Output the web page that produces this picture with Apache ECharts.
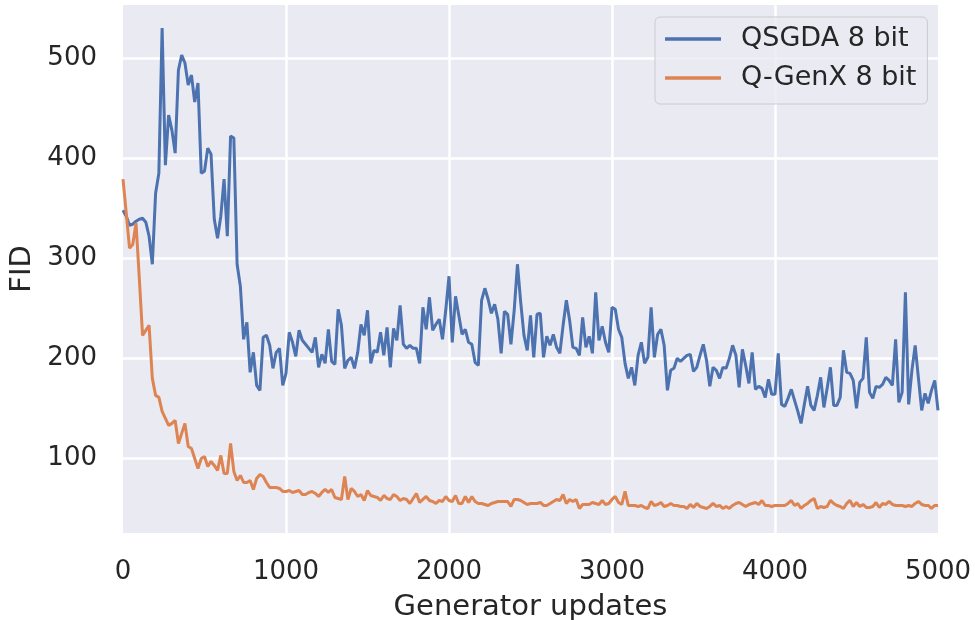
<!DOCTYPE html>
<html>
<head>
<meta charset="utf-8">
<script src="https://cdn.jsdelivr.net/npm/echarts@6/dist/echarts.min.js"></script>
<style>
  html, body { margin: 0; padding: 0; background: #fff; }
  #main { width: 975px; height: 620px; }
</style>
</head>
<body>
<div id="main"></div>
<script>
// FID measured every 20 generator updates (0 .. 5000)
const STEP = 20;
const qsgda = [
  348, 342, 333, 334, 337, 339, 340, 336, 322, 294,
  365, 385, 530, 393, 443, 428, 405, 488, 503, 495,
  473, 483, 456, 475, 385, 387, 410, 404, 339, 320,
  342, 379, 322, 422, 420, 294, 272, 219, 236, 186,
  206, 173, 168, 221, 223, 213, 190, 206, 210, 173,
  185, 226, 216, 202, 228, 218, 214, 210, 206, 221,
  191, 204, 195, 229, 197, 194, 249, 233, 190, 198,
  201, 190, 206, 234, 223, 248, 195, 208, 206, 226,
  203, 231, 191, 230, 218, 253, 214, 210, 213, 210,
  210, 195, 251, 229, 261, 228, 234, 239, 219, 248,
  282, 216, 262, 243, 224, 229, 216, 214, 196, 193,
  258, 270, 259, 245, 254, 239, 205, 247, 244, 214,
  248, 294, 256, 223, 208, 243, 201, 244, 245, 201,
  222, 213, 224, 211, 205, 233, 258, 238, 211, 210,
  203, 241, 211, 222, 205, 266, 218, 232, 216, 206,
  251, 249, 229, 221, 195, 180, 191, 173, 203, 216,
  195, 201, 251, 201, 224, 229, 213, 168, 188, 190,
  200, 197, 200, 203, 204, 187, 191, 203, 214, 198,
  172, 191, 188, 180, 191, 190, 200, 213, 203, 171,
  209, 193, 175, 206, 169, 172, 170, 161, 179, 164,
  164, 205, 154, 152, 160, 169, 158, 147, 135, 154,
  172, 153, 148, 163, 181, 151, 170, 191, 153, 153,
  161, 208, 186, 185, 178, 150, 176, 180, 221, 166,
  160, 172, 171, 174, 181, 178, 173, 219, 156, 166,
  266, 154, 188, 213, 180, 148, 165, 155, 168, 178,
  148
];
const qgenx = [
  379, 345, 310, 314, 335, 280, 223, 228, 233, 180,
  163, 161, 147, 140, 133, 135, 138, 115, 125, 135,
  112, 110, 100, 90, 100, 102, 92, 97, 93, 88,
  103, 85, 85, 115, 87, 78, 83, 76, 76, 78,
  69, 80, 84, 82, 76, 71, 71, 71, 70, 67,
  67, 68, 66, 67, 68, 64, 64, 66, 67, 65,
  62, 66, 69, 66, 69, 61, 60, 59, 82, 59,
  70, 67, 62, 64, 58, 68, 63, 62, 61, 58,
  63, 60, 59, 64, 62, 58, 60, 59, 55, 60,
  65, 56, 59, 62, 58, 57, 55, 58, 57, 62,
  58, 57, 63, 55, 55, 62, 56, 62, 57, 55,
  55, 54, 53, 55, 56, 57, 57, 57, 57, 52,
  59, 59, 58, 56, 54, 55, 55, 55, 56, 53,
  53, 55, 57, 59, 58, 64, 55, 59, 57, 59,
  50, 54, 54, 54, 56, 55, 54, 58, 54, 55,
  59, 62, 56, 54, 67, 53, 53, 53, 52, 53,
  51, 50, 57, 53, 54, 56, 52, 53, 55, 53,
  53, 52, 52, 50, 54, 51, 55, 52, 51, 50,
  52, 55, 52, 53, 50, 52, 50, 53, 55, 56,
  54, 52, 54, 55, 56, 54, 58, 53, 53, 52,
  53, 53, 53, 53, 55, 58, 53, 55, 50, 53,
  55, 58, 60, 50, 52, 51, 52, 58, 55, 53,
  52, 50, 55, 58, 52, 56, 52, 54, 51, 51,
  52, 56, 51, 55, 54, 57, 54, 53, 53, 53,
  52, 53, 52, 55, 57, 54, 53, 53, 50, 53,
  53
];
const seriesNames = ['QSGDA 8 bit', 'Q-GenX 8 bit'];
const xTicks = [0, 1000, 2000, 3000, 4000, 5000];

const FONT = 'DejaVu Sans';
const TEXT = '#262626';

function pairs(arr) {
  return arr.map((v, i) => [i * STEP, v]);
}

var myChart = echarts.init(document.getElementById('main'), null, { renderer: 'canvas' });

let option = {
  animation: false,
  backgroundColor: '#ffffff',
  color: ['#4c72b0', '#dd8452'],
  grid: {
    left: 123,
    right: 37,
    top: 5,
    bottom: 87,
    outerBoundsMode: 'none',
    containLabel: false,
    show: true,
    backgroundColor: '#eaeaf2',
    borderWidth: 0
  },
  legend: {
    orient: 'vertical',
    left: 655,
    top: 17,
    padding: [7, 11, 11, 10],
    itemWidth: 56,
    itemHeight: 3.5,
    itemGap: 9,
    icon: 'rect',
    backgroundColor: 'rgba(234,234,242,0.8)',
    borderColor: '#cccccc',
    borderWidth: 1,
    borderRadius: 5,
    textStyle: {
      fontFamily: FONT,
      fontSize: 27,
      color: TEXT,
      lineHeight: 30,
      padding: [0, 0, 0, 15]
    },
    data: seriesNames
  },
  xAxis: {
    type: 'value',
    min: xTicks[0],
    max: xTicks[xTicks.length - 1],
    interval: 1000,
    name: 'Generator updates',
    nameLocation: 'middle',
    nameGap: 60,
    nameTextStyle: { fontFamily: FONT, fontSize: 29, color: TEXT },
    axisLine: { show: false },
    axisTick: { show: false },
    axisLabel: {
      fontFamily: FONT, fontSize: 26, color: TEXT, margin: 26,
      formatter: (v) => String(v)
    },
    splitLine: {
      show: true,
      showMinLine: false,
      showMaxLine: false,
      lineStyle: { color: '#ffffff', width: 2.5 }
    }
  },
  yAxis: {
    type: 'value',
    min: 25.5,
    max: 553,
    splitNumber: 5,
    name: 'FID',
    nameLocation: 'middle',
    nameGap: 86,
    nameTextStyle: { fontFamily: FONT, fontSize: 29, color: TEXT },
    axisLine: { show: false },
    axisTick: { show: false },
    axisLabel: {
      fontFamily: FONT, fontSize: 26, color: TEXT, margin: 26,
      showMinLabel: false, showMaxLabel: false,
      formatter: (v) => String(v)
    },
    splitLine: {
      show: true,
      showMinLine: false,
      showMaxLine: false,
      lineStyle: { color: '#ffffff', width: 2.5 }
    }
  },
  series: [
    {
      name: seriesNames[0],
      type: 'line',
      showSymbol: false,
      symbol: 'none',
      lineStyle: { width: 3, color: '#4c72b0' },
      itemStyle: { color: '#4c72b0' },
      data: pairs(qsgda)
    },
    {
      name: seriesNames[1],
      type: 'line',
      showSymbol: false,
      symbol: 'none',
      lineStyle: { width: 3, color: '#dd8452' },
      itemStyle: { color: '#dd8452' },
      data: pairs(qgenx)
    }
  ]
};
option && myChart.setOption(option);
</script>
</body>
</html>
